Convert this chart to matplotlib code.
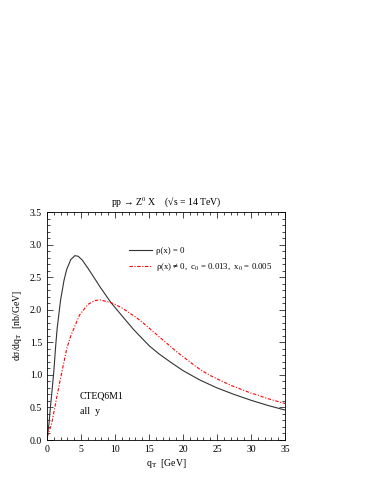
import numpy as np
import matplotlib
matplotlib.use('Agg')
import matplotlib.pyplot as plt
from matplotlib.ticker import MultipleLocator

plt.rcParams['font.family'] = ['Liberation Serif', 'DejaVu Serif']
plt.rcParams['mathtext.fontset'] = 'stix'

# rho(x) = 0
qt_a = [0.05, 0.3, 0.5, 0.78, 1.0, 1.28, 1.5, 2.0, 2.5, 2.9, 3.5, 4.1, 4.6, 5.2, 6, 7,
        7.8, 9.4, 11, 12.7, 13.7, 15.1, 16.5, 18.1, 20, 22.5, 25, 27.5, 30,
        32.5, 35]
ds_a = [0.05, 0.26, 0.5, 0.8, 1.05, 1.45, 1.72, 2.15, 2.45, 2.62, 2.77, 2.83,
        2.82, 2.76, 2.64, 2.48, 2.35, 2.11, 1.91, 1.70, 1.59, 1.44, 1.32, 1.2, 1.065,
        0.92, 0.8, 0.7, 0.61, 0.53, 0.46]
# rho(x) != 0
qt_b = [0.05, 0.7, 1.8, 2.9, 3.5, 4.8, 6, 7, 7.8, 9.4, 11, 12, 13, 14, 15, 16,
        17, 18, 19, 20, 21, 22, 23, 24, 25, 26, 27, 28, 29, 30, 31, 32, 33, 34, 35]
ds_b = [0.05, 0.26, 0.85, 1.4, 1.6, 1.92, 2.08, 2.14, 2.15, 2.11, 2.03, 1.96,
        1.89, 1.81, 1.72, 1.63, 1.54, 1.45, 1.36, 1.28, 1.2, 1.12, 1.05, 0.99,
        0.94, 0.89, 0.84, 0.8, 0.76, 0.72, 0.69, 0.65, 0.62, 0.59, 0.56]

fig = plt.figure(figsize=(3.74, 4.84), dpi=100)
ax = fig.add_axes([47/374, 1-440/484, 238/374, 228/484])

ax.plot(qt_a, ds_a, color='#333333', lw=0.8, label='ρ(x) = 0')
ax.plot(qt_b, ds_b, color='red', lw=0.8, ls=(0, (3, 1.5, 1, 1.5)),
        label='ρ(x) ≠ 0,  c$_0$ = 0.013,  x$_0$ = 0.005')

ax.set_xlim(0, 35)
ax.set_ylim(0, 3.5)
ax.xaxis.set_major_locator(MultipleLocator(5))
ax.xaxis.set_minor_locator(MultipleLocator(1))
ax.yaxis.set_major_locator(MultipleLocator(0.5))
ax.yaxis.set_minor_locator(MultipleLocator(0.1))
ax.tick_params(which='both', direction='in', top=True, right=True, labelsize=7, width=0.5)
ax.tick_params(which='major', length=4)
ax.tick_params(which='minor', length=2)
for s in ax.spines.values():
    s.set_linewidth(0.6)

ax.set_xlabel('q$_\\mathrm{T}$  [GeV]', fontsize=7, labelpad=2)
ax.set_ylabel('dσ/dq$_\\mathrm{T}$  [nb/GeV]', fontsize=7, labelpad=4)
ax.set_title('pp → Z$^0$ X    (√s = 14 TeV)', fontsize=7, pad=5)

ax.legend(loc='upper left', bbox_to_anchor=(0.345, 0.848), frameon=False, fontsize=6.3,
          handlelength=2.6, handletextpad=0.45, labelspacing=0.75,
          borderpad=0, borderaxespad=0)

ax.text(4.85, 0.68, 'CTEQ6M1', fontsize=7, va='center')
ax.text(4.85, 0.435, 'all  y', fontsize=7, va='center')

fig.savefig('out.png', dpi=100)
